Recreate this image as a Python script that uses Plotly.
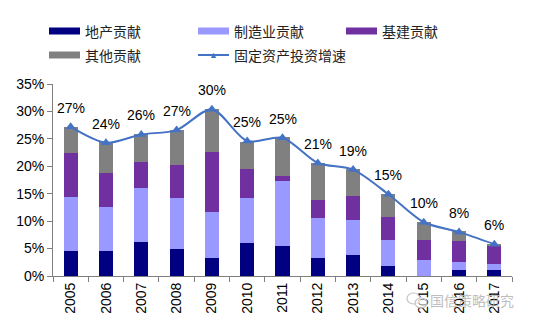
import plotly.graph_objects as go

# Fixed-asset investment growth and its decomposition (percentage points)
years = ["2005", "2006", "2007", "2008", "2009", "2010", "2011",
         "2012", "2013", "2014", "2015", "2016", "2017"]
property_contrib = [4.6, 4.6, 6.2, 4.9, 3.3, 6.1, 5.5, 3.3, 3.8, 1.9, 0.0, 1.1, 1.1]
manufacturing_contrib = [9.8, 7.9, 9.9, 9.4, 8.4, 8.2, 11.8, 7.2, 6.4, 4.6, 2.9, 1.4, 1.0]
infrastructure_contrib = [8.1, 6.3, 4.6, 6.0, 10.9, 5.2, 0.9, 3.4, 4.4, 4.2, 3.7, 3.8, 3.4]
other_contrib = [4.7, 5.6, 5.2, 6.4, 7.8, 5.0, 7.1, 6.7, 4.9, 4.2, 3.3, 1.9, 0.3]
fai_growth = [27.2, 24.3, 25.8, 26.6, 30.4, 24.6, 25.2, 20.6, 19.4, 14.9, 9.8, 8.0, 5.8]

bar_names = ["地产贡献", "制造业贡献", "基建贡献", "其他贡献"]
bar_values = [property_contrib, manufacturing_contrib, infrastructure_contrib, other_contrib]
bar_colors = ["#000080", "#9999FF", "#7030A0", "#808080"]
line_name = "固定资产投资增速"
line_color = "#4472C4"
watermark = "国信策略研究"

TICK_FONT = dict(family="Liberation Sans, Arial, sans-serif", size=14, color="#000000")
CJK_FONT = dict(family="Noto Sans CJK SC, sans-serif", size=14, color="#222222")

fig = go.Figure()

for name, vals, color in zip(bar_names, bar_values, bar_colors):
    fig.add_trace(go.Bar(
        x=years, y=vals, name=name, marker=dict(color=color, line=dict(width=0)),
        showlegend=False,
    ))

fig.add_trace(go.Scatter(
    x=years, y=fai_growth, name=line_name, mode="lines+markers",
    line=dict(color=line_color, width=2, shape="spline", smoothing=0.8),
    marker=dict(symbol="triangle-up", size=9, color=line_color),
    showlegend=False,
))

# value labels above the growth line (category index positions)
for i, v in enumerate(fai_growth):
    fig.add_annotation(
        x=i, y=v, text=f"{round(v)}%", showarrow=False,
        yshift=19, font=TICK_FONT, xanchor="center", yanchor="middle",
    )

# legend drawn in pixel-based paper coordinates
W, H = 550, 331
M = dict(l=53, r=38, t=84, b=55)
pw, ph = W - M["l"] - M["r"], H - M["t"] - M["b"]


def px_x(x):
    return (x - M["l"]) / pw


def px_y(y):
    return (H - M["b"] - y) / ph


legend_items = [
    ("bar", bar_names[0], bar_colors[0], 49, 31),
    ("bar", bar_names[1], bar_colors[1], 198, 31),
    ("bar", bar_names[2], bar_colors[2], 346, 31),
    ("bar", bar_names[3], bar_colors[3], 49, 55),
    ("line", line_name, line_color, 198, 55),
]
for kind, name, color, x0, yc in legend_items:
    if kind == "bar":
        fig.add_shape(type="rect", xref="paper", yref="paper",
                      x0=px_x(x0), x1=px_x(x0 + 31), y0=px_y(yc + 3.5), y1=px_y(yc - 3.5),
                      fillcolor=color, line=dict(width=0), layer="above")
    else:
        fig.add_shape(type="line", xref="paper", yref="paper",
                      x0=px_x(x0), x1=px_x(x0 + 31), y0=px_y(yc), y1=px_y(yc),
                      line=dict(color=color, width=2), layer="above")
        fig.add_annotation(xref="paper", yref="paper", x=px_x(x0 + 15.5), y=px_y(yc),
                           text="▲", showarrow=False,
                           font=dict(size=9, color=color), xanchor="center", yanchor="middle")
    fig.add_annotation(xref="paper", yref="paper", x=px_x(x0 + 34), y=px_y(yc),
                       text=name, showarrow=False, font=CJK_FONT,
                       xanchor="left", yanchor="middle")

# account watermark: chat-bubble icon plus name
wm_color = "#c4c4c4"
fig.add_shape(type="circle", xref="paper", yref="paper",
              x0=px_x(407), x1=px_x(420), y0=px_y(304), y1=px_y(293),
              line=dict(color=wm_color, width=1.2), fillcolor="rgba(0,0,0,0)", layer="above")
fig.add_shape(type="circle", xref="paper", yref="paper",
              x0=px_x(415), x1=px_x(427), y0=px_y(308), y1=px_y(298),
              line=dict(color=wm_color, width=1.2), fillcolor="rgba(255,255,255,0.6)", layer="above")
fig.add_annotation(xref="paper", yref="paper", x=px_x(428), y=px_y(300),
                   text=watermark, showarrow=False,
                   font=dict(family="Noto Sans CJK SC, sans-serif", size=14, color="#b4b4b4"),
                   xanchor="left", yanchor="middle", opacity=0.85)

fig.update_layout(
    width=W, height=H, margin=M,
    barmode="stack", bargap=0.6,
    plot_bgcolor="#ffffff", paper_bgcolor="#ffffff",
    showlegend=False,
    xaxis=dict(
        type="category", range=[-0.5, len(years) - 0.5], tickangle=-90, tickfont=TICK_FONT,
        showline=True, linecolor="#808080", linewidth=1,
        ticks="outside", tickson="boundaries", ticklen=5, tickcolor="#808080",
        showgrid=False, zeroline=False,
    ),
    yaxis=dict(
        range=[0, 35], dtick=5, ticksuffix="%", tickfont=TICK_FONT,
        showline=True, linecolor="#808080", linewidth=1,
        ticks="outside", ticklen=5, tickcolor="#808080",
        showgrid=False, zeroline=False,
    ),
)

fig.write_html("out.html")
